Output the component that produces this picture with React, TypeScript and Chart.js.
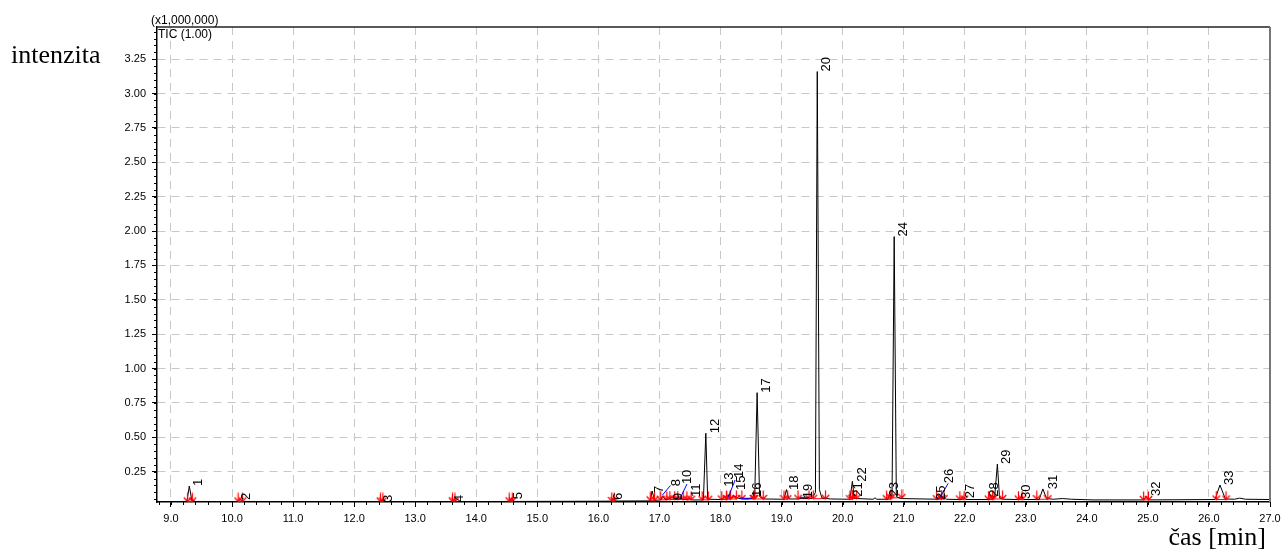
import React, { useEffect, useRef } from "react";
import { Chart, registerables } from "chart.js";

Chart.register(...registerables);

// ---------- data ----------
const traceTimes = [
  8.77, 9.26, 9.3, 9.34, 9.4, 10.09, 10.13, 10.17, 11.5, 12.44, 12.47, 12.5,
  13.62, 13.65, 13.68, 14.55, 14.58, 14.62, 15.5, 16.22, 16.25, 16.28, 16.85,
  16.88, 16.92, 17.02, 17.05, 17.09, 17.14, 17.2, 17.25, 17.31, 17.34, 17.38,
  17.46, 17.49, 17.54, 17.72, 17.76, 17.79, 18.03, 18.07, 18.11, 18.14, 18.18,
  18.24, 18.3, 18.45, 18.49, 18.56, 18.6, 18.64, 18.7, 19.04, 19.08, 19.12,
  19.28, 19.32, 19.5, 19.555, 19.585, 19.62, 19.66, 19.8, 20.12, 20.16, 20.19,
  20.24, 20.5, 20.53, 20.56, 20.74, 20.78, 20.81, 20.845, 20.88, 20.95, 21.56,
  21.62, 21.66, 21.7, 21.94, 21.98, 22.02, 22.4, 22.45, 22.49, 22.535, 22.57,
  22.63, 22.88, 22.92, 22.96, 23.22, 23.28, 23.34, 23.45, 23.6, 23.75, 24.1,
  24.93, 24.97, 25.02, 26.1, 26.18, 26.27, 26.42, 26.5, 26.6, 27.0,
];
const traceValues = [
  0.032, 0.032, 0.146, 0.045, 0.034, 0.033, 0.05, 0.034, 0.033, 0.033, 0.045, 0.033,
  0.033, 0.045, 0.033, 0.034, 0.06, 0.034, 0.035, 0.036, 0.055, 0.037, 0.038,
  0.11, 0.042, 0.045, 0.075, 0.05, 0.048, 0.065, 0.05, 0.048, 0.062, 0.05,
  0.048, 0.058, 0.045, 0.045, 0.53, 0.05, 0.048, 0.07, 0.06, 0.085, 0.06,
  0.072, 0.055, 0.052, 0.058, 0.055, 0.825, 0.07, 0.052, 0.05, 0.12, 0.052,
  0.052, 0.058, 0.055, 0.1, 3.16, 0.12, 0.06, 0.052, 0.05, 0.18, 0.06,
  0.055, 0.05, 0.06, 0.05, 0.05, 0.085, 0.075, 1.96, 0.07, 0.055, 0.05,
  0.07, 0.06, 0.05, 0.048, 0.065, 0.048, 0.048, 0.075, 0.065, 0.306, 0.06,
  0.05, 0.048, 0.062, 0.048, 0.048, 0.125, 0.055, 0.05, 0.055, 0.05, 0.045,
  0.045, 0.07, 0.045, 0.048, 0.153, 0.052, 0.05, 0.058, 0.05, 0.048,
];

const peakNumbers = [
  "1", "2", "3", "4", "5", "6", "7", "8", "9", "10", "11", "12", "13", "14", "15", "16", "17",
  "18", "19", "20", "21", "22", "23", "24", "25", "26", "27", "28", "29", "30", "31", "32", "33",
];
const labelTimes = [
  9.29, 10.08, 12.41, 13.57, 14.53, 16.17, 16.84, 17.12, 17.15, 17.31, 17.45, 17.76, 18.0,
  18.155, 18.19, 18.45, 18.6, 19.05, 19.29, 19.585, 20.1, 20.17, 20.69, 20.845, 21.47,
  21.6, 21.94, 22.34, 22.535, 22.86, 23.3, 24.98, 26.18,
];
const labelValues = [
  0.146, 0.044, 0.03, 0.03, 0.05, 0.045, 0.095, 0.145, 0.045, 0.16, 0.066, 0.53, 0.14,
  0.205, 0.117, 0.066, 0.825, 0.117, 0.057, 3.16, 0.068, 0.178, 0.07, 1.96, 0.045,
  0.166, 0.057, 0.068, 0.306, 0.052, 0.122, 0.073, 0.153,
];

const peakStarts = [
  9.27, 10.1, 12.43, 13.61, 14.54, 16.22, 16.85, 17.02, 17.17, 17.3, 17.45, 17.7, 18.02,
  18.1, 18.16, 18.35, 18.56, 19.04, 19.27, 19.52, 20.12, 20.16, 20.72, 20.79, 21.54,
  21.62, 21.92, 22.39, 22.46, 22.88, 23.18, 24.93, 26.12,
];
const peakEnds = [
  9.35, 10.17, 12.47, 13.65, 14.59, 16.26, 16.92, 17.12, 17.25, 17.39, 17.52, 17.8, 18.1,
  18.16, 18.26, 18.54, 18.7, 19.1, 19.45, 19.72, 20.16, 20.23, 20.79, 20.97, 21.62,
  21.66, 21.99, 22.46, 22.62, 22.94, 23.36, 25.01, 26.28,
];
const peakBaselines = [
  0.034, 0.034, 0.034, 0.034, 0.035, 0.037, 0.042, 0.046, 0.048, 0.048, 0.046, 0.046, 0.048,
  0.05, 0.052, 0.052, 0.052, 0.05, 0.054, 0.054, 0.05, 0.055, 0.05, 0.06, 0.05,
  0.052, 0.048, 0.048, 0.052, 0.048, 0.05, 0.045, 0.048,
];

const blueFromTimes = [17.05, 17.34, 18.13, 18.32, 19.3, 21.59];
const blueFromValues = [0.081, 0.057, 0.068, 0.057, 0.064, 0.057];
const blueToTimes = [17.18, 17.45, 18.24, 18.51, 19.45, 21.73];
const blueToValues = [0.15, 0.16, 0.19, 0.057, 0.064, 0.166];

const xMajorTicks = [
  9.0, 10.0, 11.0, 12.0, 13.0, 14.0, 15.0, 16.0, 17.0, 18.0, 19.0, 20.0, 21.0, 22.0, 23.0,
  24.0, 25.0, 26.0, 27.0,
];
const yMajorTicks = [0.25, 0.5, 0.75, 1.0, 1.25, 1.5, 1.75, 2.0, 2.25, 2.5, 2.75, 3.0, 3.25];
const X_MIN = 8.771;
const X_MAX = 27.0;
const Y_MIN = 0.03;
const Y_MAX = 3.484;
const X_MINOR_STEP = 0.2;
const Y_MINOR_STEP = 0.05;

const yTitle = "intenzita";
const xTitle = "čas [min]";
const scaleNote = "(x1,000,000)";
const traceName = "TIC (1.00)";

// ---------- helpers ----------
function makeArrow(): HTMLCanvasElement {
  const c = document.createElement("canvas");
  c.width = 9;
  c.height = 18;
  const g = c.getContext("2d")!;
  g.strokeStyle = "#ff0000";
  g.lineWidth = 1.2;
  g.beginPath();
  g.moveTo(4.5, 0.5);
  g.lineTo(4.5, 9);
  g.moveTo(0.8, 5);
  g.lineTo(4.5, 9);
  g.lineTo(8.2, 5);
  g.stroke();
  return c;
}

const sans = '"Liberation Sans", Arial, Helvetica, sans-serif';
const serif = '"Liberation Serif", "Times New Roman", serif';

const overlayPlugin = {
  id: "overlay",
  afterDatasetsDraw(chart: any) {
    const { ctx, scales } = chart;
    const xs = scales.x;
    const ys = scales.y;
    ctx.save();
    ctx.font = `13px ${sans}`;
    ctx.fillStyle = "#000";
    ctx.textAlign = "left";
    ctx.textBaseline = "alphabetic";
    peakNumbers.forEach((n, i) => {
      const px = xs.getPixelForValue(labelTimes[i]);
      const py = ys.getPixelForValue(labelValues[i]);
      ctx.save();
      ctx.translate(px + 13, py);
      ctx.rotate(-Math.PI / 2);
      ctx.fillText(n, 0, 0);
      ctx.restore();
    });
    ctx.restore();
  },
  afterDraw(chart: any) {
    const { ctx, chartArea, scales } = chart;
    const xs = scales.x;
    const ys = scales.y;
    const { left, right, top, bottom } = chartArea;
    ctx.save();
    // minor ticks
    ctx.strokeStyle = "#000";
    ctx.lineWidth = 1;
    ctx.beginPath();
    const xStart = Math.ceil(X_MIN / X_MINOR_STEP) * X_MINOR_STEP;
    for (let v = xStart; v <= X_MAX + 1e-6; v += X_MINOR_STEP) {
      const px = Math.round(xs.getPixelForValue(v)) + 0.5;
      ctx.moveTo(px, bottom);
      ctx.lineTo(px, bottom + 3);
    }
    const yStart = Math.ceil(Y_MIN / Y_MINOR_STEP) * Y_MINOR_STEP;
    for (let v = yStart; v <= Y_MAX + 1e-6; v += Y_MINOR_STEP) {
      const py = Math.round(ys.getPixelForValue(v)) + 0.5;
      ctx.moveTo(left - 3, py);
      ctx.lineTo(left, py);
    }
    ctx.stroke();
    // frame
    ctx.strokeStyle = "#222";
    ctx.lineWidth = 1.5;
    ctx.beginPath();
    ctx.moveTo(left, top);
    ctx.lineTo(right, top);
    ctx.stroke();
    ctx.strokeStyle = "#777";
    ctx.lineWidth = 2;
    ctx.beginPath();
    ctx.moveTo(right, top);
    ctx.lineTo(right, bottom);
    ctx.stroke();
    // texts
    ctx.fillStyle = "#000";
    ctx.textAlign = "left";
    ctx.textBaseline = "alphabetic";
    ctx.font = `12px ${sans}`;
    ctx.fillText(scaleNote, 151, 24);
    ctx.fillText(traceName, 158, 38);
    ctx.font = `26px ${serif}`;
    ctx.fillText(yTitle, 11, 63);
    ctx.textAlign = "right";
    ctx.fillText(xTitle, 1266, 545);
    ctx.restore();
  },
};

export default function App() {
  const canvasRef = useRef<HTMLCanvasElement | null>(null);

  useEffect(() => {
    if (!canvasRef.current) return;
    Chart.defaults.font.family = sans;
    const arrow = makeArrow();

    const traceData = traceTimes.map((t, i) => ({ x: t, y: traceValues[i] }));
    const arrowData: { x: number; y: number }[] = [];
    const redSegData: { x: number; y: number | null }[] = [];
    peakStarts.forEach((s, i) => {
      arrowData.push({ x: s, y: peakBaselines[i] });
      arrowData.push({ x: peakEnds[i], y: peakBaselines[i] });
      redSegData.push({ x: s, y: peakBaselines[i] });
      redSegData.push({ x: peakEnds[i], y: peakBaselines[i] });
      redSegData.push({ x: peakEnds[i], y: null });
    });
    const blueData: { x: number; y: number | null }[] = [];
    blueFromTimes.forEach((t, i) => {
      blueData.push({ x: t, y: blueFromValues[i] });
      blueData.push({ x: blueToTimes[i], y: blueToValues[i] });
      blueData.push({ x: blueToTimes[i], y: null });
    });

    const chart = new Chart(canvasRef.current, {
      type: "line",
      data: {
        datasets: [
          {
            label: "red baseline",
            data: redSegData as any,
            borderColor: "#ff0000",
            borderWidth: 1,
            pointRadius: 0,
            spanGaps: false,
            tension: 0,
            order: 3,
          },
          {
            label: "TIC",
            data: traceData,
            borderColor: "#000000",
            borderWidth: 1,
            pointRadius: 0,
            tension: 0,
            order: 2,
          },
          {
            type: "scatter" as any,
            label: "arrows",
            data: arrowData,
            pointStyle: arrow as any,
            pointRadius: 5,
            showLine: false,
            order: 1,
          } as any,
          {
            label: "blue",
            data: blueData as any,
            borderColor: "#0000ff",
            borderWidth: 1,
            pointRadius: 0,
            spanGaps: false,
            tension: 0,
            order: 0,
          },
        ],
      },
      options: {
        animation: false,
        responsive: true,
        maintainAspectRatio: false,
        devicePixelRatio: 1,
        layout: { padding: { left: 0, right: 11, top: 27, bottom: 0 } },
        plugins: {
          legend: { display: false },
          tooltip: { enabled: false },
        },
        scales: {
          x: {
            type: "linear",
            min: X_MIN,
            max: X_MAX,
            afterBuildTicks: (scale: any) => {
              scale.ticks = xMajorTicks.map((v) => ({ value: v }));
            },
            afterFit: (scale: any) => {
              scale.height = 47;
              scale.paddingLeft = 0;
              scale.paddingRight = 0;
            },
            ticks: {
              autoSkip: false,
              maxRotation: 0,
              padding: 5,
              color: "#000",
              font: { size: 11, family: sans },
              callback: (v: any) => Number(v).toFixed(1),
            },
            grid: {
              color: "#c8c8c8",
              lineWidth: 1,
              tickColor: "#000",
              tickLength: 5,
              tickWidth: 1,
            },
            border: { display: true, color: "#000", width: 1.5, dash: [8, 6] },
          },
          y: {
            type: "linear",
            min: Y_MIN,
            max: Y_MAX,
            afterBuildTicks: (scale: any) => {
              scale.ticks = yMajorTicks.map((v) => ({ value: v }));
            },
            afterFit: (scale: any) => {
              scale.width = 157;
              scale.paddingTop = 0;
              scale.paddingBottom = 0;
            },
            ticks: {
              autoSkip: false,
              padding: 6,
              color: "#000",
              font: { size: 11, family: sans },
              callback: (v: any) => Number(v).toFixed(2),
            },
            grid: {
              color: "#c8c8c8",
              lineWidth: 1,
              tickColor: "#000",
              tickLength: 5,
              tickWidth: 1,
            },
            border: { display: true, color: "#000", width: 1.5, dash: [8, 6] },
          },
        },
      },
      plugins: [overlayPlugin],
    });
    return () => chart.destroy();
  }, []);

  return (
    <div style={{ position: "absolute", left: 0, top: 0, width: 1281, height: 549, background: "#fff" }}>
      <canvas ref={canvasRef} />
    </div>
  );
}
